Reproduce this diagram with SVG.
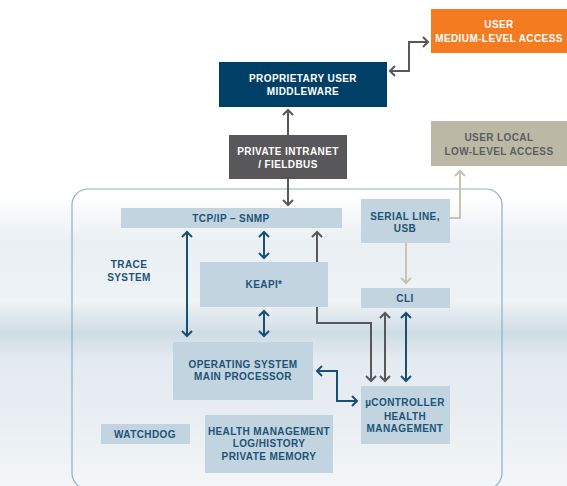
<svg xmlns="http://www.w3.org/2000/svg" width="567" height="486" viewBox="0 0 567 486">
<defs>
<linearGradient id="bg" x1="0" y1="0" x2="0" y2="1">
<stop offset="0" stop-color="#ffffff"/>
<stop offset="0.4" stop-color="#ffffff"/>
<stop offset="0.5" stop-color="#e9eff3"/>
<stop offset="0.62" stop-color="#eef3f6"/>
<stop offset="0.685" stop-color="#cfdce4"/>
<stop offset="0.74" stop-color="#e4ebf0"/>
<stop offset="0.86" stop-color="#e8eef2"/>
<stop offset="1" stop-color="#f3f6f8"/>
</linearGradient>
<marker id="mg" markerWidth="12" markerHeight="12" refX="9" refY="6" orient="auto-start-reverse" markerUnits="userSpaceOnUse"><polyline points="4,1 9,6 4,11" fill="none" stroke="#58585a" stroke-width="2"/></marker>
<marker id="mb" markerWidth="12" markerHeight="12" refX="9" refY="6" orient="auto-start-reverse" markerUnits="userSpaceOnUse"><polyline points="4,1 9,6 4,11" fill="none" stroke="#1a4f75" stroke-width="2"/></marker>
<marker id="mt" markerWidth="12" markerHeight="12" refX="9" refY="6" orient="auto-start-reverse" markerUnits="userSpaceOnUse"><polyline points="4,1 9,6 4,11" fill="none" stroke="#c8c4b0" stroke-width="2"/></marker>
</defs>
<style>
text{font-family:"Liberation Sans",Arial,sans-serif;font-weight:bold;font-size:10px;letter-spacing:0.4px;text-anchor:middle}
.lb{fill:#c1d4df}
.tb{fill:#1d5378}
.tw{fill:#ffffff}
.tg{fill:#5e5e5e}
.g{fill:none;stroke:#58585a;stroke-width:2}
.b{fill:none;stroke:#1a4f75;stroke-width:2}
.t{fill:none;stroke:#c8c4b0;stroke-width:2}
</style>
<rect width="567" height="486" fill="url(#bg)"/>
<rect x="72" y="189" width="430" height="300" rx="16" fill="none" stroke="#8fb0c4" stroke-width="1.2"/>
<g id="connectors">
<polyline class="g" points="390,71 409,71 409,42 428,42" marker-start="url(#mg)" marker-end="url(#mg)"/>
<line class="g" x1="288" y1="135" x2="288" y2="110" marker-end="url(#mg)"/>
<line class="g" x1="288" y1="179" x2="288" y2="205" marker-end="url(#mg)"/>
<polyline class="t" points="450,218 460,218 460,171" marker-end="url(#mt)"/>
<line class="t" x1="406" y1="243" x2="406" y2="283" marker-end="url(#mt)"/>
<line class="b" x1="187" y1="232" x2="187" y2="336" marker-start="url(#mb)" marker-end="url(#mb)"/>
<line class="b" x1="264" y1="232" x2="264" y2="258" marker-start="url(#mb)" marker-end="url(#mb)"/>
<line class="b" x1="264" y1="311" x2="264" y2="336" marker-start="url(#mb)" marker-end="url(#mb)"/>
<polyline class="g" points="317,232 317,323 371,323 371,381" marker-start="url(#mg)" marker-end="url(#mg)"/>
<line class="g" x1="385" y1="313" x2="385" y2="381" marker-start="url(#mg)" marker-end="url(#mg)"/>
<line class="b" x1="406" y1="313" x2="406" y2="381" marker-start="url(#mb)" marker-end="url(#mb)"/>
<polyline class="b" points="317,371 337,371 337,401 357,401" marker-start="url(#mb)" marker-end="url(#mb)"/>
</g>
<g id="user-medium"><rect x="431" y="9" width="136" height="44" fill="#f47b20"/><text class="tw" x="499" y="28">USER</text><text class="tw" x="499" y="41.5">MEDIUM-LEVEL ACCESS</text></g>
<g id="middleware"><rect x="219" y="62" width="168" height="45" fill="#003f66"/><text class="tw" x="303" y="82">PROPRIETARY USER</text><text class="tw" x="303" y="94.5">MIDDLEWARE</text></g>
<g id="intranet"><rect x="229" y="135" width="118" height="44" fill="#58585a"/><text class="tw" x="288" y="155">PRIVATE INTRANET</text><text class="tw" x="288" y="168">/ FIELDBUS</text></g>
<g id="user-local"><rect x="431" y="121" width="136" height="45" fill="#bbb9a6"/><text class="tg" x="499" y="141">USER LOCAL</text><text class="tg" x="499" y="155">LOW-LEVEL ACCESS</text></g>
<g id="trace"><text class="tb" x="129" y="268">TRACE</text><text class="tb" x="129" y="281">SYSTEM</text></g>
<g id="tcpip"><rect class="lb" x="121" y="208" width="221" height="20"/><text class="tb" x="231" y="222">TCP/IP – SNMP</text></g>
<g id="serial"><rect class="lb" x="361" y="199" width="89" height="44"/><text class="tb" x="405" y="219.5">SERIAL LINE,</text><text class="tb" x="405" y="231.5">USB</text></g>
<g id="keapi"><rect class="lb" x="200" y="262" width="128" height="45"/><text class="tb" x="264" y="288">KEAPI*</text></g>
<g id="cli"><rect class="lb" x="361" y="288" width="89" height="20"/><text class="tb" x="405" y="301.5">CLI</text></g>
<g id="os"><rect class="lb" x="173" y="342" width="140" height="58"/><text class="tb" x="243" y="368">OPERATING SYSTEM</text><text class="tb" x="243" y="380">MAIN PROCESSOR</text></g>
<g id="ucontroller"><rect class="lb" x="361" y="386" width="89" height="58"/><text class="tb" x="405" y="406">µCONTROLLER</text><text class="tb" x="405" y="419.5">HEALTH</text><text class="tb" x="405" y="431.5">MANAGEMENT</text></g>
<g id="watchdog"><rect class="lb" x="101" y="424" width="89" height="20"/><text class="tb" x="145" y="438">WATCHDOG</text></g>
<g id="health"><rect class="lb" x="205" y="415" width="128" height="58"/><text class="tb" x="269" y="434.5">HEALTH MANAGEMENT</text><text class="tb" x="269" y="447">LOG/HISTORY</text><text class="tb" x="269" y="459.5">PRIVATE MEMORY</text></g>
</svg>
